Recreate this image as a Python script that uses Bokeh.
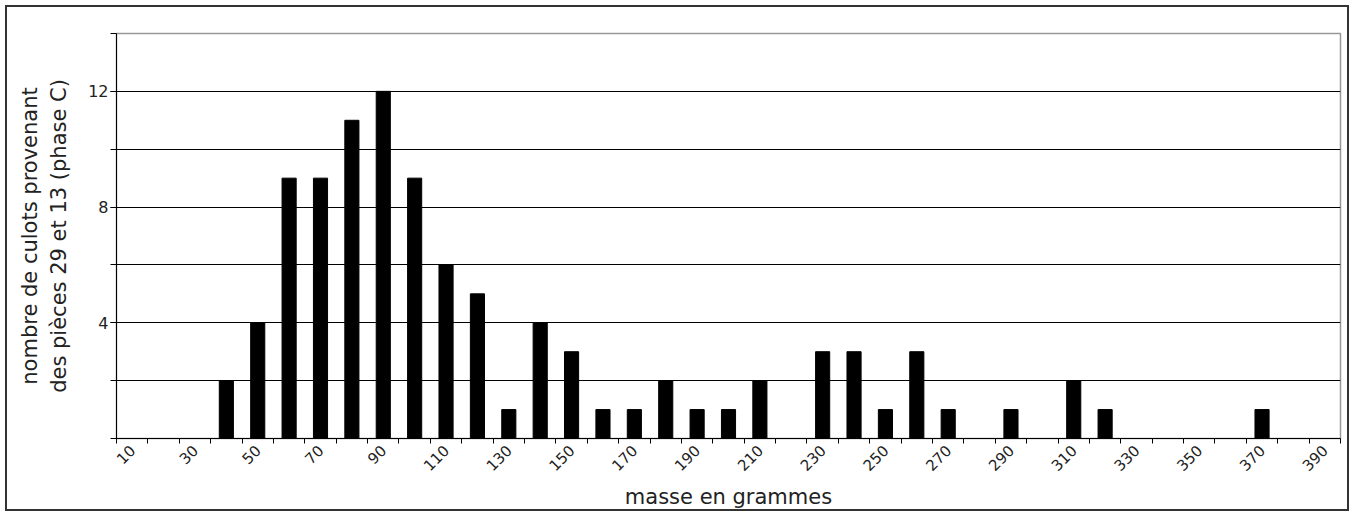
import math
from bokeh.plotting import figure
from bokeh.models import FixedTicker, Range1d
from bokeh.embed import file_html
from bokeh.resources import INLINE

# categories (mass classes, g) and counts
masses = list(range(10, 400, 10))
counts = [0, 0, 0, 2, 4, 9, 9, 11, 12, 9,
          6, 5, 1, 4, 3, 1, 1, 2, 1, 1,
          2, 0, 3, 3, 1, 3, 1, 0, 1, 0,
          2, 1, 0, 0, 0, 0, 1, 0, 0]
x_labels = list(range(10, 400, 20))
y_labels = [4, 8, 12]
y_ticks = list(range(0, 16, 2))

FONT = "DejaVu Sans"

p = figure(width=1344, height=506, output_backend="svg", toolbar_location=None,
           x_range=Range1d(5, 395), y_range=Range1d(0, 14),
           min_border_left=109, min_border_right=11, min_border_top=26, min_border_bottom=75)
p.styles = {"border": "2px solid #333", "margin": "5px"}

p.vbar(x=masses, top=counts, width=4.5, fill_color="black", line_color="black")

# x axis: labels every 20, ticks at class boundaries
xa = p.xaxis[0]
xa.ticker = FixedTicker(ticks=x_labels, minor_ticks=[m - 5 for m in masses] + [395])
xa.major_tick_out = 0
xa.major_tick_in = 0
xa.minor_tick_out = 5
xa.minor_tick_in = 0
xa.minor_tick_line_color = "black"
xa.axis_line_color = "black"
xa.major_label_orientation = math.pi / 4
xa.major_label_text_font = FONT
xa.major_label_text_font_size = "15px"
xa.major_label_text_color = "#222222"
xa.major_label_standoff = 4
xa.axis_label = "masse en grammes"
xa.axis_label_text_font = FONT
xa.axis_label_text_font_size = "21px"
xa.axis_label_text_font_style = "normal"
xa.axis_label_text_color = "#222222"
xa.axis_label_standoff = 6

ya = p.yaxis[0]
ya.ticker = FixedTicker(ticks=y_labels, minor_ticks=y_ticks)
ya.major_tick_out = 6
ya.major_tick_in = 0
ya.minor_tick_out = 6
ya.minor_tick_in = 0
ya.minor_tick_line_color = "black"
ya.axis_line_color = "black"
ya.major_label_text_font = FONT
ya.major_label_text_font_size = "16px"
ya.major_label_text_color = "#222222"
ya.major_label_standoff = 2
ya.axis_label = "nombre de culots provenant\ndes pièces 29 et 13 (phase C)"
ya.axis_label_text_font = FONT
ya.axis_label_text_font_size = "21px"
ya.axis_label_text_font_style = "normal"
ya.axis_label_text_color = "#222222"
ya.axis_label_standoff = 14

p.xgrid.visible = False
p.ygrid.ticker = FixedTicker(ticks=y_ticks[1:-1])
p.ygrid.grid_line_color = "black"
p.ygrid.grid_line_width = 1

p.outline_line_color = "#999999"
p.outline_line_width = 1.5
p.background_fill_color = "white"
p.border_fill_color = "white"

open("out.html", "w").write(file_html(p, INLINE))
